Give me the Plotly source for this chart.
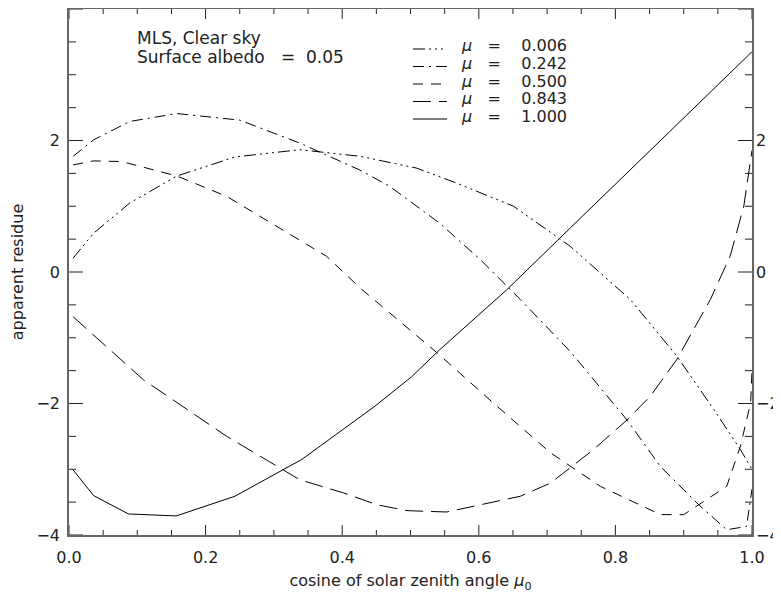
import plotly.graph_objects as go

# ---- data ----
x_006 = [0.006, 0.036, 0.089, 0.158, 0.243, 0.338, 0.426, 0.509, 0.568, 0.651, 0.734, 0.822, 0.890, 0.944, 0.983, 1.0]
y_006 = [0.21, 0.59, 1.05, 1.46, 1.75, 1.86, 1.76, 1.58, 1.35, 1.00, 0.39, -0.42, -1.28, -2.09, -2.70, -3.0]

x_242 = [0.006, 0.036, 0.089, 0.158, 0.25, 0.338, 0.426, 0.47, 0.543, 0.602, 0.661, 0.734, 0.817, 0.866, 0.924, 0.963, 0.992, 1.0]
y_242 = [1.76, 2.01, 2.29, 2.41, 2.31, 1.96, 1.55, 1.30, 0.74, 0.19, -0.42, -1.21, -2.25, -2.96, -3.56, -3.92, -3.87, -3.3]

x_500 = [0.006, 0.036, 0.077, 0.114, 0.158, 0.231, 0.304, 0.377, 0.427, 0.539, 0.621, 0.705, 0.778, 0.866, 0.90, 0.963, 0.983, 0.998, 1.0]
y_500 = [1.63, 1.69, 1.68, 1.58, 1.46, 1.15, 0.69, 0.24, -0.25, -1.23, -1.99, -2.75, -3.26, -3.69, -3.69, -3.26, -2.65, -1.99, -1.5]

x_843 = [0.006, 0.06, 0.109, 0.163, 0.231, 0.338, 0.402, 0.451, 0.495, 0.553, 0.617, 0.661, 0.705, 0.768, 0.817, 0.851, 0.890, 0.939, 0.968, 0.988, 1.0]
y_843 = [-0.68, -1.18, -1.64, -2.02, -2.50, -3.16, -3.36, -3.54, -3.63, -3.65, -3.51, -3.41, -3.21, -2.70, -2.25, -1.89, -1.33, -0.42, 0.24, 1.0, 1.85]

x_1000 = [0.006, 0.036, 0.087, 0.157, 0.243, 0.341, 0.448, 0.502, 0.543, 0.641, 0.734, 1.0]
y_1000 = [-3.01, -3.40, -3.68, -3.71, -3.41, -2.85, -2.04, -1.59, -1.18, -0.27, 0.67, 3.35]

series_labels = ["0.006", "0.242", "0.500", "0.843", "1.000"]
x_major = [0.0, 0.2, 0.4, 0.6, 0.8, 1.0]
x_minor = [round(0.05 * i, 2) for i in range(21) if i % 4 != 0]
y_major = [-4, -2, 0, 2, 4]
y_minor = [round(-4 + 0.5 * i, 1) for i in range(17) if i % 4 != 0]

FONT = "DejaVu Sans"
TXT = "#222222"
TICKC = "#222222"
NB = "\u00a0"

XR = [0, 1]
YR = [-4, 4]
PW, PH = 683, 526          # plot area in pixels

dashes = [
    "12px,4px,2px,4px,2px,4px,2px,4px",
    "11px,5px,2px,5px",
    "10px,8px",
    "18px,8px",
    "solid",
]
xs = [x_006, x_242, x_500, x_843, x_1000]
ys = [y_006, y_242, y_500, y_843, y_1000]

fig = go.Figure()
for xv, yv, d, lab in zip(xs, ys, dashes, series_labels):
    fig.add_trace(go.Scatter(x=xv, y=yv, mode="lines", name=lab,
                             line=dict(color="black", width=1, dash=d),
                             showlegend=False))

# inward tick marks on all four sides, built from the tick lists
def ytick_len(px):
    return px * (XR[1] - XR[0]) / PW
def xtick_len(px):
    return px * (YR[1] - YR[0]) / PH

tx, ty = [], []
for vals, ln in ((y_major, 14), (y_minor, 7)):
    L = ytick_len(ln)
    for v in vals:
        tx += [XR[0], XR[0] + L, None, XR[1], XR[1] - L, None]
        ty += [v, v, None, v, v, None]
for vals, ln in ((x_major, 10), (x_minor, 5)):
    L = xtick_len(ln)
    for v in vals:
        tx += [v, v, None, v, v, None]
        ty += [YR[0], YR[0] + L, None, YR[1], YR[1] - L, None]
fig.add_trace(go.Scatter(x=tx, y=ty, mode="lines", line=dict(color=TICKC, width=1),
                         showlegend=False, hoverinfo="skip", cliponaxis=False))

# empty trace so that the right-hand label axis is drawn
fig.add_trace(go.Scatter(x=[None], y=[None], xaxis="x", yaxis="y2", showlegend=False, hoverinfo="skip"))

tf = dict(family=FONT, size=16, color=TXT)

# page body has an 8px margin, so the figure is 8px smaller than the window
fig.update_layout(
    width=773, height=586,
    margin=dict(l=61, r=29, t=1, b=59),
    paper_bgcolor="white", plot_bgcolor="white",
    xaxis=dict(range=XR, tickvals=x_major, ticktext=["%.1f" % v for v in x_major],
               ticks="", showline=True, mirror=True, linecolor="#666666", linewidth=1.5,
               showgrid=False, zeroline=False, automargin=False, tickfont=tf,
               ticklabelstandoff=7,
               title=dict(text="cosine of solar zenith angle <i>μ</i><sub>0</sub>",
                          font=dict(family=FONT, size=16, color=TXT), standoff=9)),
    yaxis=dict(range=YR, tickvals=y_major, ticks="", showline=True, mirror=True,
               linecolor="#666666", linewidth=1.5, showgrid=False, zeroline=False,
               automargin=False, tickfont=tf, ticklabelstandoff=4,
               title=dict(text="apparent residue", font=dict(family=FONT, size=16, color=TXT),
                          standoff=9)),
    yaxis2=dict(range=YR, tickvals=y_major, overlaying="y", side="right", anchor="x",
                ticks="", showline=False, showgrid=False, zeroline=False,
                automargin=False, tickfont=tf, ticklabelstandoff=3),
)

pb, pl = 9, 69
def px2paper_x(px):
    return (px - pl) / PW
def px2paper_y(py):
    return 1 - (py - pb) / PH

# legend drawn as line samples + text
row_y = [46, 63.5, 81, 98.5, 116]
for ry, d, lab in zip(row_y, dashes, series_labels):
    fig.add_shape(type="line", xref="paper", yref="paper",
                  x0=px2paper_x(413), x1=px2paper_x(447),
                  y0=px2paper_y(ry + 3), y1=px2paper_y(ry + 3),
                  line=dict(color="black", width=1, dash=d))
    fig.add_annotation(xref="paper", yref="paper", x=px2paper_x(459), y=px2paper_y(ry),
                       xanchor="left", yanchor="middle", showarrow=False,
                       text="<i>μ</i>" + NB * 3 + "=" + NB * 4 + lab,
                       font=dict(family=FONT, size=16, color=TXT))

fig.add_annotation(xref="paper", yref="paper", x=px2paper_x(135), y=px2paper_y(38),
                   xanchor="left", yanchor="middle", showarrow=False,
                   text="MLS," + NB + "Clear" + NB + "sky", font=dict(family=FONT, size=17, color=TXT))
fig.add_annotation(xref="paper", yref="paper", x=px2paper_x(135), y=px2paper_y(57),
                   xanchor="left", yanchor="middle", showarrow=False,
                   text="Surface" + NB + "albedo" + NB * 3 + "=" + NB * 2 + "0.05",
                   font=dict(family=FONT, size=17, color=TXT))

fig.write_html("out.html")
